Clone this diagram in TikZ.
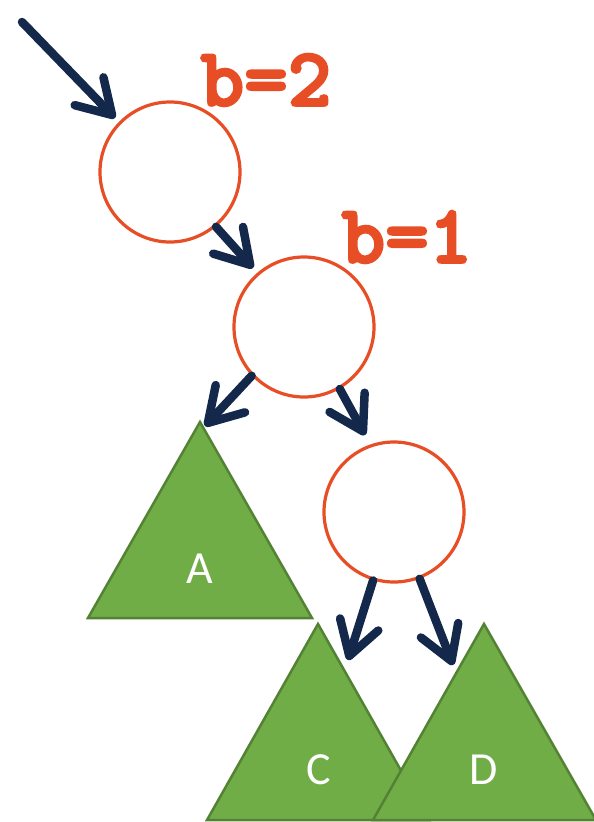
\documentclass[tikz,border=0pt]{standalone}
\usepackage{fontspec}
\setmainfont{Carlito}
\newfontfamily\slabmono[FakeBold=3]{lmmonolt10-bold.otf}
\usetikzlibrary{arrows.meta}
\definecolor{navy}{HTML}{13284B}
\definecolor{ora}{HTML}{E84E25}
\definecolor{gfill}{HTML}{70AD47}
\definecolor{gline}{HTML}{548235}
\tikzset{
  circ/.style={circle, draw=ora, line width=3.2pt, fill=white, minimum size=140pt, inner sep=0pt},
  tri/.style={draw=gline, line width=2.5pt, fill=gfill, line join=miter},
  lab/.style={text=white, font=\fontsize{46}{46}\selectfont},
  bal/.style={text=ora, font=\slabmono\fontsize{83}{83}\selectfont, inner sep=0pt},
  arr/.style={draw=navy, line width=8.5pt, line cap=round, line join=round,
    -{Straight Barb[length=33pt,width=40pt,round]}},
}
\begin{document}
\begin{tikzpicture}[x=1pt,y=-1pt]
\useasboundingbox (0,0) rectangle (594,822);
% triangles
\path[tri] (200,422) -- (312,618) -- (88,618) -- cycle;
\node[lab] (A) at (200,569) {A};
\path[tri] (318,624) -- (429,820) -- (207,820) -- cycle;
\node[lab] (C) at (319,770) {C};
\path[tri] (484,624) -- (596,820) -- (373,820) -- cycle;
\node[lab] (D) at (484,770) {D};
% circles
\node[circ] (n1) at (170,172) {};
\node[circ] (n2) at (304,327) {};
\node[circ] (n3) at (394,512) {};
% balance labels
\node[bal] (b2) at (266,80) {b=2};
\node[bal] (b1) at (407,237) {b=1};
% connector end points
\coordinate (s0) at (22,22);
\coordinate (t1) at (115,118);
\coordinate (t2) at (253,268);
\coordinate (tA) at (205,426);
\coordinate (t3) at (365,435);
\coordinate (tC) at (348,660);
\coordinate (tD) at (453,665);
% arrows
\draw[arr] (s0) -- (t1);
\draw[arr] (n1.-50) -- (t2);
\draw[arr] (n2.223) -- (tA);
\draw[arr] (n2.-60) -- (t3);
\draw[arr] (n3.253) -- (tC);
\draw[arr] (n3.291) -- (tD);
\end{tikzpicture}
\end{document}
